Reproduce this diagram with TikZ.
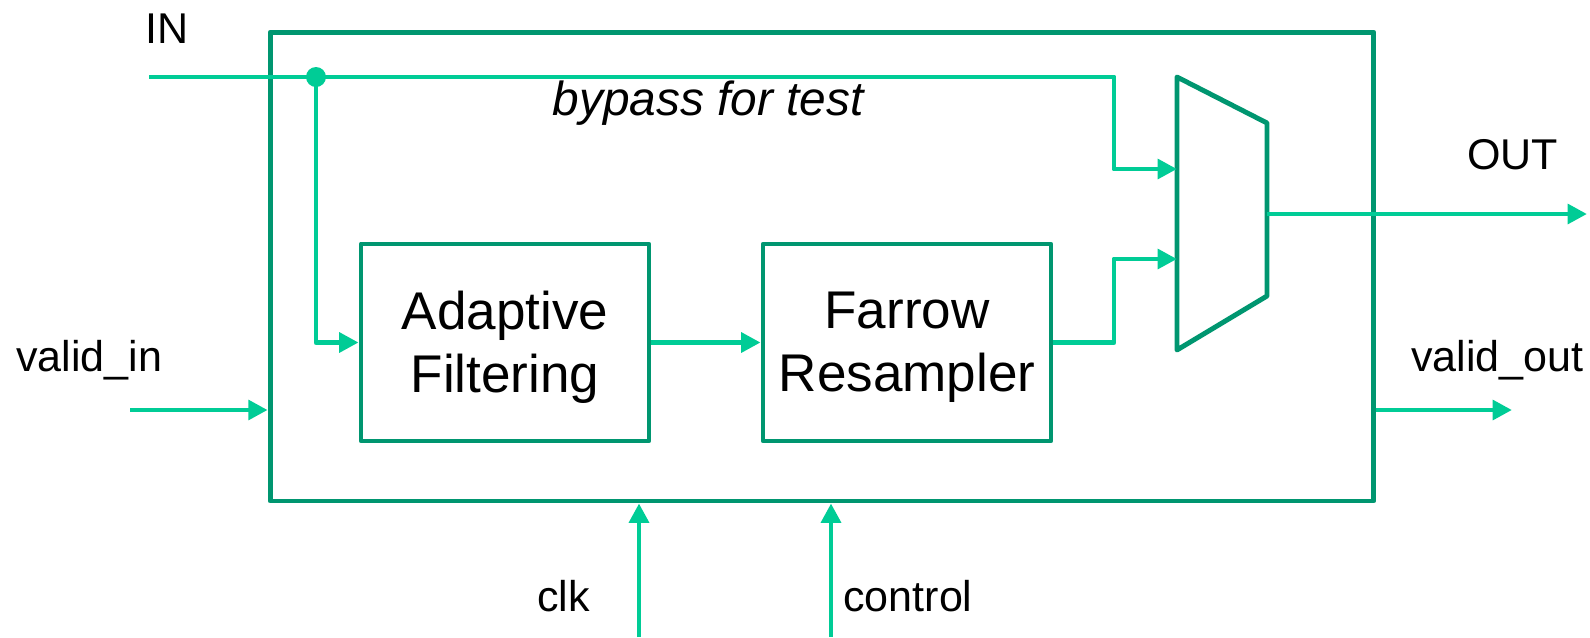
\documentclass[tikz,border=0pt]{standalone}
\usepackage{fontspec}
\setmainfont{Liberation Sans}
\usetikzlibrary{arrows.meta,calc}
\definecolor{boxgreen}{RGB}{0,150,112}
\definecolor{wiregreen}{RGB}{0,204,150}
\tikzset{
  blk/.style={draw=boxgreen, line width=2.8pt, line join=round, inner sep=0pt},
  wire/.style={draw=wiregreen, line width=2.8pt, line join=round},
  tip/.style={wire, -{Triangle[length=11pt,width=11pt]}},
  lbl/.style={inner sep=0pt, font=\fontsize{24.5pt}{29pt}\selectfont},
  blklbl/.style={inner sep=0pt, align=center, font=\fontsize{30.2pt}{35.85pt}\selectfont}
}
\begin{document}
\begin{tikzpicture}[x=0.02cm, y=-0.02cm]
\useasboundingbox (0,0) rectangle (1590,637);

% enclosing block
\node[blk, minimum width=22.08cm, minimum height=9.38cm] (outer) at (822,266.5) {};

% processing blocks
\node[blk, minimum width=5.76cm, minimum height=3.94cm] (adapt) at (505,342.5) {};
\node[blk, minimum width=5.76cm, minimum height=3.94cm] (farrow) at (907,342.5) {};
\node[blklbl] (adapt-text) at ([yshift=-0.1cm]adapt.center) {Adaptive\\Filtering};
\node[blklbl] (farrow-text) at ([yshift=-0.1cm]farrow.center) {Farrow\\Resampler};

% multiplexer
\coordinate (mux-tl) at (1177,77);
\coordinate (mux-tr) at (1267,123);
\coordinate (mux-br) at (1267,296);
\coordinate (mux-bl) at (1177,350);
\draw[blk] (mux-tl) -- (mux-tr) -- (mux-br) -- (mux-bl) -- cycle;
\coordinate (mux-a) at (1177,169);
\coordinate (mux-b) at (1177,259);
\coordinate (mux-o) at (1267,214);

% wiring points
\coordinate (in) at (149,77);
\coordinate (tap) at (316,77);
\coordinate (jog-a) at (1114,169);
\coordinate (jog-b) at (1114,259);
\coordinate (out) at (1587,214);
\coordinate (vin) at (130,410);
\coordinate (vout) at (1512,410);
\coordinate (clk) at (639,637);
\coordinate (ctrl) at (831,637);

% signal paths
\draw[tip] (in) -| (jog-a) -- (mux-a);
\fill[wiregreen] (tap) circle[radius=10];
\draw[tip] (tap) |- (adapt.west);
\draw[tip] (adapt.east) -- (farrow.west);
\draw[tip] (farrow.east) -| (jog-b) -- (mux-b);
\draw[tip] (mux-o) -- (out);
\draw[tip] (vin) -- (vin -| outer.west);
\draw[tip] (vin -| outer.east) -- (vout);
\draw[tip] (clk) -- (clk |- outer.south);
\draw[tip] (ctrl) -- (ctrl |- outer.south);

% labels
\node[lbl, anchor=base west] (in-label) at (145,43) {IN};
\node[lbl, anchor=base west] (out-label) at (1467,169) {OUT};
\node[lbl, anchor=base west] (vin-label) at (16,371) {valid\_in};
\node[lbl, anchor=base west] (vout-label) at (1411,371) {valid\_out};
\node[lbl, anchor=base west] (clk-label) at (537,611) {clk};
\node[lbl, anchor=base west] (ctrl-label) at (843,611) {control};
\node[lbl, anchor=base, font=\fontsize{27.2pt}{32pt}\selectfont\itshape] (bypass-label) at (708,115) {bypass for test};
\end{tikzpicture}
\end{document}
